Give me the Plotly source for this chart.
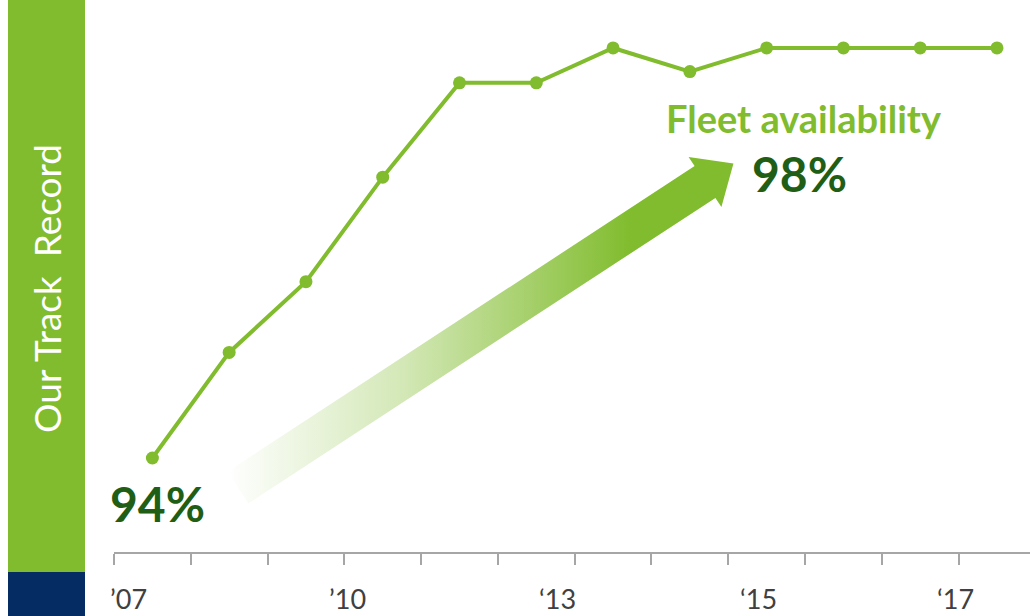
import plotly.graph_objects as go
import math

# ---------------- data ----------------
point_index = list(range(12))
availability = [94.0, 95.03, 95.72, 96.74, 97.66, 97.66, 98.0, 97.77, 98.0, 98.0, 98.0, 98.0]
year_labels = ["\u201907", "\u201910", "\u201813", "\u201815", "\u201817"]
year_label_pos = [-0.31, 2.54, 5.27, 7.89, 10.46]
category_bounds = [i - 0.5 for i in range(12)]
start_label = "94%"
end_label = "98%"
title_label = "Fleet availability"
side_label = "Our Track\u00a0 Record"

# ---------------- geometry / style ----------------
W, H = 1030, 616
GREEN = "#80BC2D"
DARK_GREEN = "#215E15"
NAVY = "#052C63"
GRAY = "#A6A6A6"

x_dom = [114 / W, 1.0]
y_dom = [64 / H, 1.0]
x_rng = [-0.5, 11.43]
y_rng = [93.083, 98.468]

def px_to_x(px):
    f = (px / W - x_dom[0]) / (x_dom[1] - x_dom[0])
    return x_rng[0] + f * (x_rng[1] - x_rng[0])

def py_to_y(py):
    f = ((1 - py / H) - y_dom[0]) / (y_dom[1] - y_dom[0])
    return y_rng[0] + f * (y_rng[1] - y_rng[0])

# arrow polygon in pixel space (decoration)
tail = (238.0, 487.5)
base = (705.0, 182.0)
dx, dy = base[0] - tail[0], base[1] - tail[1]
L = math.hypot(dx, dy)
ux, uy = dx / L, dy / L
nx, ny = -uy, ux
hw, hh, hl = 19, 30, 34
pts = [
    (tail[0] - hw * nx, tail[1] - hw * ny),
    (base[0] - hw * nx, base[1] - hw * ny),
    (base[0] - hh * nx, base[1] - hh * ny),
    (base[0] + hl * ux, base[1] + hl * uy),
    (base[0] + hh * nx, base[1] + hh * ny),
    (base[0] + hw * nx, base[1] + hw * ny),
    (tail[0] + hw * nx, tail[1] + hw * ny),
    (tail[0] - hw * nx, tail[1] - hw * ny),
]
arrow_x = [px_to_x(p[0]) for p in pts]
arrow_y = [py_to_y(p[1]) for p in pts]

fig = go.Figure()

fig.add_trace(go.Scatter(
    x=arrow_x, y=arrow_y, mode="lines", fill="toself",
    line=dict(width=0, color="rgba(0,0,0,0)"),
    fillgradient=dict(
        type="horizontal",
        colorscale=[[0, "rgba(128,188,45,0)"], [0.35, "rgba(128,188,45,0.35)"],
                    [0.8, "rgba(128,188,45,1)"], [1, "rgba(128,188,45,1)"]],
    ),
    hoverinfo="skip", showlegend=False,
))

fig.add_trace(go.Scatter(
    x=point_index, y=availability, mode="lines+markers",
    line=dict(color=GREEN, width=4),
    marker=dict(color=GREEN, size=13),
    showlegend=False,
))

shapes = [
    dict(type="rect", xref="paper", yref="paper", x0=8 / W, x1=85 / W,
         y0=1 - 572 / H, y1=1, fillcolor=GREEN, line=dict(width=0), layer="below"),
    dict(type="rect", xref="paper", yref="paper", x0=8 / W, x1=85 / W,
         y0=0, y1=1 - 572 / H, fillcolor=NAVY, line=dict(width=0), layer="below"),
]

annotations = [
    dict(text=side_label, xref="paper", yref="paper", x=47 / W, y=1 - 289 / H,
         textangle=-90, showarrow=False, xanchor="center", yanchor="middle",
         font=dict(family="Lato", size=37, color="white", weight="normal")),
    dict(text=start_label, xref="paper", yref="paper", x=157 / W, y=1 - 503 / H,
         showarrow=False, xanchor="center", yanchor="middle",
         font=dict(family="Lato", size=48, color=DARK_GREEN, weight="bold")),
    dict(text=end_label, xref="paper", yref="paper", x=799 / W, y=1 - 173 / H,
         showarrow=False, xanchor="center", yanchor="middle",
         font=dict(family="Lato", size=48, color=DARK_GREEN, weight="bold")),
    dict(text=title_label, xref="paper", yref="paper", x=804 / W, y=1 - 118 / H,
         showarrow=False, xanchor="center", yanchor="middle",
         font=dict(family="Lato", size=38, color=GREEN, weight="bold")),
]
for lab, pos in zip(year_labels, year_label_pos):
    annotations.append(dict(text=lab, xref="x", yref="paper", x=pos, y=1 - 598 / H,
                            showarrow=False, xanchor="center", yanchor="middle",
                            borderpad=0,
                            font=dict(family="Lato", size=27, color="#404040")))

fig.update_layout(
    width=W, height=H,
    margin=dict(l=0, r=0, t=0, b=0),
    paper_bgcolor="white", plot_bgcolor="white",
    shapes=shapes, annotations=annotations,
    xaxis=dict(domain=x_dom, range=x_rng, tickvals=category_bounds,
               showticklabels=False, ticks="outside", ticklen=11, tickwidth=2,
               tickcolor=GRAY, showline=True, linecolor=GRAY, linewidth=2,
               showgrid=False, zeroline=False, fixedrange=True),
    yaxis=dict(domain=y_dom, range=y_rng, visible=False, fixedrange=True),
)

fig.write_html("out.html")
